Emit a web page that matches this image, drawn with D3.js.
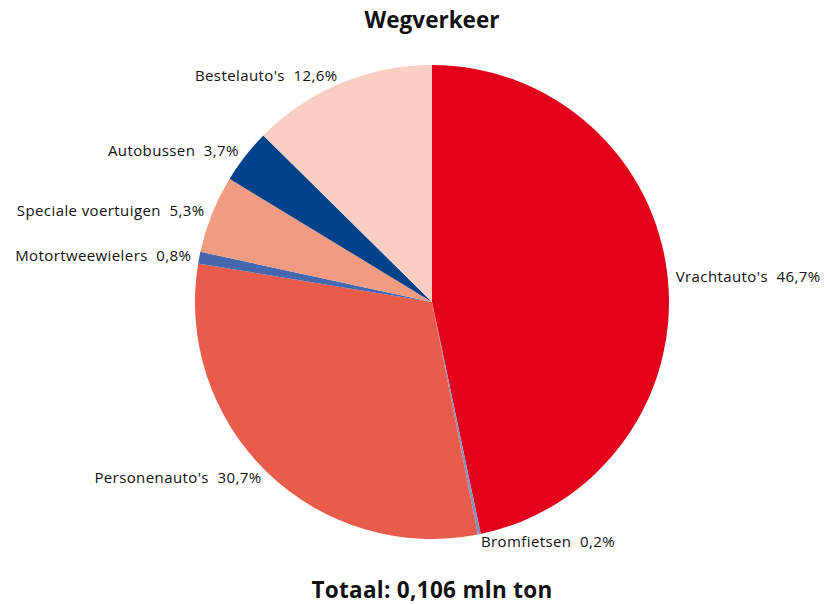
<!DOCTYPE html>
<html>
<head>
<meta charset="utf-8">
<script src="https://cdn.jsdelivr.net/npm/d3@7"></script>
<style>
  html, body { margin: 0; padding: 0; background: #fff; }
  svg text { font-family: "Open Sans", "Noto Sans", sans-serif; fill: #111; }
</style>
</head>
<body>
<svg id="chart" width="827" height="604"></svg>
<script>
// Vehicle categories, clockwise from 12 o'clock
const categories = ["Vrachtauto's", "Bromfietsen", "Personenauto's", "Motortweewielers",
                    "Speciale voertuigen", "Autobussen", "Bestelauto's"];
const shares = [46.7, 0.2, 30.7, 0.8, 5.3, 3.7, 12.6];
const colors = ["#e2001a", "#7c93c6", "#e95c4b", "#4567ae", "#f19b83", "#00438a", "#f9cec3"];
const title = "Wegverkeer";
const totalLabel = "Totaal: 0,106 mln ton";

const svg = d3.select("#chart");
const cx = 432, cy = 302, radius = 237, labelRadius = 245;

const data = categories.map((c, i) => ({ name: c, value: shares[i], color: colors[i] }));

const pie = d3.pie().value(d => d.value).sort(null);
const arcs = pie(data);
const arc = d3.arc().innerRadius(0).outerRadius(radius);
const labelArc = d3.arc().innerRadius(labelRadius).outerRadius(labelRadius);

const g = svg.append("g").attr("transform", `translate(${cx},${cy})`);

g.selectAll("path")
  .data(arcs)
  .join("path")
  .attr("d", arc)
  .attr("fill", d => d.data.color);

const fmt = v => d3.format(".1f")(v).replace(".", ",");

g.selectAll("text.lbl")
  .data(arcs)
  .join("text")
  .attr("class", "lbl")
  .attr("transform", d => {
    const [x, y] = labelArc.centroid(d);
    return `translate(${x},${y})`;
  })
  .attr("dy", "0.35em")
  .attr("text-anchor", d => ((d.startAngle + d.endAngle) / 2 < Math.PI ? "start" : "end"))
  .style("font-size", "15px")
  .style("letter-spacing", "0.4px")
  .style("white-space", "pre")
  .text(d => `${d.data.name}  ${fmt(d.data.value)}%`);

svg.append("text")
  .attr("x", cx).attr("y", 28)
  .attr("text-anchor", "middle")
  .style("font-size", "22.5px").style("font-weight", "bold")
  .text(title);

svg.append("text")
  .attr("x", cx).attr("y", 598)
  .attr("text-anchor", "middle")
  .style("font-size", "22.5px").style("font-weight", "bold")
  .style("letter-spacing", "0.3px")
  .text(totalLabel);
</script>
</body>
</html>
